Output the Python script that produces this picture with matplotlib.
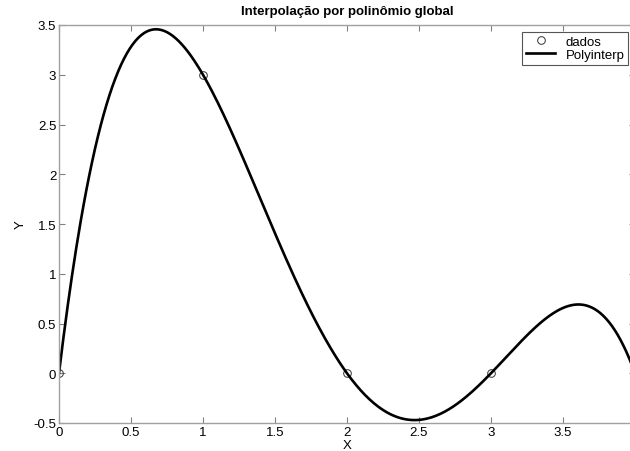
import numpy as np
import matplotlib
matplotlib.use("Agg")
import matplotlib.pyplot as plt

# sample points used for the global polynomial
x_dados = [0, 1, 2, 3, 4]
y_dados = [0, 3, 0, 0, 0]

x_ticks = [0, 0.5, 1, 1.5, 2, 2.5, 3, 3.5]
y_ticks = [-0.5, 0, 0.5, 1, 1.5, 2, 2.5, 3, 3.5]

plt.rcParams['font.family'] = ['Liberation Sans', 'DejaVu Sans']

# interpolating polynomial through all samples
coef = np.polyfit(x_dados, y_dados, len(x_dados) - 1)
xx = np.linspace(0, 4, 400)
yy = np.polyval(coef, xx)

fig = plt.figure(figsize=(6.30, 4.52), dpi=100)
ax = fig.add_axes([59 / 630, 28 / 452, 576 / 630, 398 / 452])

ax.plot(x_dados, y_dados, 'o', mfc='none', mec='#333333', ms=5.5, mew=0.7,
        label='dados')
ax.plot(xx, yy, '-', color='black', lw=1.9, label='Polyinterp')

ax.set_xlim(0, 4)
ax.set_ylim(-0.5, 3.5)
ax.set_xticks(x_ticks)
ax.set_xticklabels(['0', '0.5', '1', '1.5', '2', '2.5', '3', '3.5'])
ax.set_yticks(y_ticks)
ax.set_yticklabels(['-0.5', '0', '0.5', '1', '1.5', '2', '2.5', '3', '3.5'])

ax.tick_params(direction='in', length=4, width=0.8, color='#808080',
               labelsize=9.5, pad=2, top=True, right=True)
for s in ax.spines.values():
    s.set_color('#a0a0a0')
    s.set_linewidth(1.0)

ax.set_xlabel('X', fontsize=9.5, labelpad=1)
ax.set_ylabel('Y', fontsize=9.5, labelpad=5)
ax.set_title('Interpolação por polinômio global', fontsize=9.5,
             fontweight='bold', pad=8)

leg = ax.legend(loc='upper right', fontsize=9.5, fancybox=False,
                framealpha=1, edgecolor='#555555', borderaxespad=0.5,
                handlelength=2.2, handletextpad=0.8, borderpad=0.3,
                labelspacing=0.05)
leg.get_frame().set_linewidth(0.8)

fig.savefig('out.png', dpi=100)
